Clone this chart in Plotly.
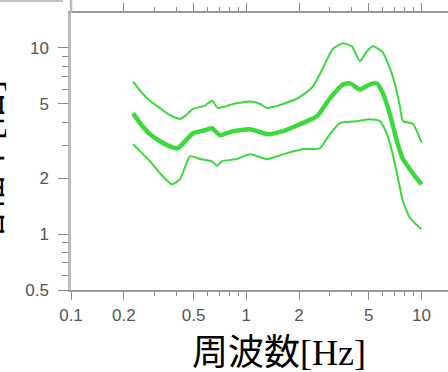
import plotly.graph_objects as go

# ---- data ----
upper_f = [0.226, 0.248, 0.282, 0.322, 0.367, 0.419, 0.453, 0.497, 0.581, 0.637, 0.690, 0.756, 0.840,
           1.05, 1.20, 1.31, 1.46, 1.62, 1.95, 2.16, 2.40, 2.74, 3.12, 3.56, 4.01, 4.45, 4.88, 5.28,
           5.94, 6.43, 7.05, 7.53, 7.83, 8.93, 10.0]
upper_v = [6.6, 5.9, 5.2, 4.75, 4.35, 4.15, 4.35, 4.7, 4.9, 5.2, 4.75, 4.85, 5.0,
           5.15, 5.0, 4.75, 4.85, 5.0, 5.35, 5.7, 6.2, 7.8, 9.9, 10.6, 10.2, 8.5, 9.6, 10.2,
           9.6, 8.3, 6.4, 4.85, 4.05, 3.9, 3.1]

mid_f = [0.226, 0.248, 0.282, 0.322, 0.367, 0.407, 0.447, 0.497, 0.581, 0.637, 0.708, 0.840,
         1.05, 1.33, 1.62, 2.02, 2.53, 3.00, 3.56, 3.91, 4.45, 5.08, 5.57, 6.02, 6.60, 7.24,
         7.83, 8.93, 10.0]
mid_v = [4.45, 3.94, 3.44, 3.15, 2.96, 2.89, 3.15, 3.48, 3.61, 3.70, 3.40, 3.57,
         3.66, 3.44, 3.57, 3.89, 4.29, 5.36, 6.37, 6.45, 5.99, 6.37, 6.45, 5.70, 4.40, 3.15,
         2.53, 2.12, 1.85]

low_f = [0.226, 0.248, 0.282, 0.322, 0.377, 0.419, 0.478, 0.545, 0.637, 0.681, 0.726, 0.885,
         1.05, 1.31, 1.62, 2.11, 2.63, 3.00, 3.42, 4.28, 5.08, 5.79, 6.35, 6.78, 7.24, 7.83,
         8.59, 10.0]
low_v = [3.04, 2.79, 2.46, 2.12, 1.85, 1.97, 2.62, 2.53, 2.46, 2.33, 2.46, 2.53,
         2.68, 2.53, 2.68, 2.86, 2.89, 3.44, 3.94, 4.04, 4.14, 4.04, 3.44, 2.79, 2.12, 1.50,
         1.22, 1.06]

x_major = [0.1, 0.2, 0.5, 1, 2, 5, 10]
x_major_text = ["0.1", "0.2", "0.5", "1", "2", "5", "10"]
x_minor = [0.3, 0.4, 0.6, 0.7, 0.8, 0.9, 3, 4, 6, 7, 8, 9]
y_major = [0.5, 1, 2, 5, 10]
y_major_text = ["0.5", "1", "2", "5", "10"]
y_minor = [0.6, 0.7, 0.8, 0.9, 3, 4, 6, 7, 8, 9]

x_title = "周波数[Hz]"
y_title = "増幅率[倍]"

GREEN = "#3cd83c"
fig = go.Figure()
fig.add_trace(go.Scatter(x=upper_f, y=upper_v, mode="lines",
                         line=dict(color=GREEN, width=2, shape="spline", smoothing=0.5)))
fig.add_trace(go.Scatter(x=mid_f, y=mid_v, mode="lines",
                         line=dict(color=GREEN, width=4.5, shape="spline", smoothing=0.5)))
fig.add_trace(go.Scatter(x=low_f, y=low_v, mode="lines",
                         line=dict(color=GREEN, width=2, shape="spline", smoothing=0.5)))

tickfont = dict(family="Liberation Sans, Arial, sans-serif", size=17, color="#555")

fig.update_layout(
    width=448, height=372,
    margin=dict(l=71, r=0, t=13, b=82),
    paper_bgcolor="white", plot_bgcolor="white",
    showlegend=False,
    xaxis=dict(type="log", range=[-1, 1.151], showgrid=False, zeroline=False,
               showline=True, linecolor="#999", linewidth=1.5, mirror="allticks",
               tickmode="array", tickvals=x_major, ticktext=x_major_text,
               ticks="outside", ticklen=8, tickwidth=1.3, tickcolor="#888",
               ticklabelstandoff=1, tickfont=tickfont,
               minor=dict(tickmode="array", tickvals=x_minor, ticks="outside",
                          ticklen=4, tickwidth=1.2, tickcolor="#888")),
    yaxis=dict(type="log", range=[-0.301, 1.188], showgrid=False, zeroline=False,
               showline=True, linecolor="#bbb", linewidth=2.5, mirror=False,
               tickmode="array", tickvals=y_major, ticktext=y_major_text,
               ticks="outside", ticklen=10, tickwidth=1.3, tickcolor="#888",
               ticklabelstandoff=6, tickfont=tickfont,
               minor=dict(tickmode="array", tickvals=y_minor, ticks="outside",
                          ticklen=6, tickwidth=1.2, tickcolor="#888")),
    annotations=[
        dict(text=x_title, xref="paper", yref="paper",
             x=(279 - 71) / 377, y=(290 - 353) / 277, xanchor="center", yanchor="middle",
             showarrow=False,
             font=dict(family="Liberation Serif, Noto Sans CJK JP", size=36, color="black")),
        dict(text=y_title, xref="paper", yref="paper", textangle=-90,
             x=(-11 - 71) / 377, y=(290 - 164) / 277, xanchor="center", yanchor="middle",
             showarrow=False,
             font=dict(family="Liberation Serif, Noto Sans CJK JP", size=36, color="black")),
    ],
    shapes=[
        dict(type="line", xref="paper", yref="paper",
             x0=(0 - 71) / 377, x1=(63 - 71) / 377, y0=(290 - 1) / 277, y1=(290 - 1) / 277,
             line=dict(color="#aaa", width=1.5)),
        dict(type="line", xref="paper", yref="paper",
             x0=0, x1=0, y0=1.0, y1=(290 - 0) / 277,
             line=dict(color="#bbb", width=2.5)),
    ],
)

fig.write_html("out.html",
               config={"displayModeBar": False},
               post_script="document.body.style.margin='0';document.body.style.overflow='hidden';")
